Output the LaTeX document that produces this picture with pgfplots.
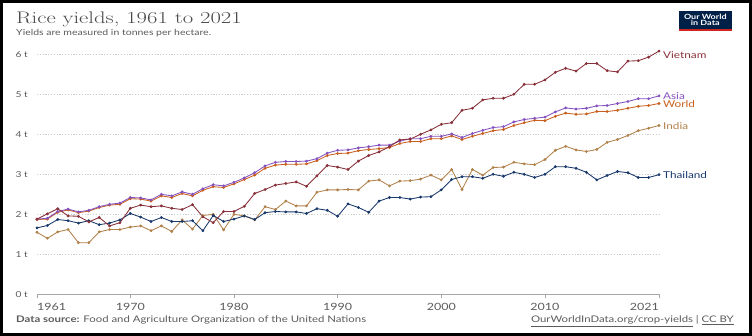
\documentclass[border=0pt]{standalone}
\usepackage{pgfplots}
\pgfplotsset{compat=1.18}
\usepackage{pgfplotstable}
\usepackage{fontspec}
\setmainfont{Lato}[FakeStretch=1.25]
\newfontfamily\titlefont{Latin Modern Roman}[FakeStretch=1.35]
\definecolor{cvn}{HTML}{883039}
\definecolor{casia}{HTML}{8452C0}
\definecolor{cworld}{HTML}{C95F1C}
\definecolor{cind}{HTML}{B0814A}
\definecolor{cth}{HTML}{18386A}
\definecolor{txt}{HTML}{5B5B5B}
\definecolor{ttl}{HTML}{4A4A4A}
\definecolor{owidblue}{HTML}{002147}
\definecolor{owidred}{HTML}{CE261E}

\pgfplotstableread{
year world asia vietnam india thailand
1961 1.87 1.88 1.88 1.55 1.66
1962 1.88 1.90 2.01 1.40 1.72
1963 2.05 2.07 2.14 1.56 1.87
1964 2.11 2.13 1.96 1.62 1.84
1965 2.04 2.06 1.95 1.29 1.78
1966 2.08 2.10 1.81 1.29 1.84
1967 2.17 2.19 1.92 1.56 1.74
1968 2.23 2.25 1.71 1.62 1.78
1969 2.25 2.28 1.79 1.62 1.86
1970 2.39 2.42 2.15 1.68 2.02
1971 2.38 2.41 2.23 1.71 1.93
1972 2.33 2.36 2.19 1.59 1.82
1973 2.46 2.50 2.21 1.71 1.92
1974 2.42 2.46 2.15 1.57 1.82
1975 2.52 2.56 2.12 1.86 1.82
1976 2.46 2.50 2.24 1.63 1.84
1977 2.60 2.64 1.94 1.97 1.59
1978 2.69 2.74 1.79 2.00 1.97
1979 2.67 2.71 2.07 1.61 1.82
1980 2.76 2.80 2.07 2.00 1.88
1981 2.87 2.91 2.20 1.96 1.96
1982 2.98 3.04 2.52 1.86 1.87
1983 3.15 3.21 2.62 2.19 2.04
1984 3.23 3.30 2.73 2.12 2.07
1985 3.25 3.32 2.77 2.33 2.06
1986 3.25 3.32 2.81 2.21 2.06
1987 3.26 3.33 2.70 2.21 2.02
1988 3.34 3.39 2.96 2.55 2.14
1989 3.47 3.53 3.22 2.61 2.10
1990 3.52 3.60 3.18 2.61 1.95
1991 3.53 3.61 3.12 2.62 2.26
1992 3.59 3.66 3.33 2.61 2.17
1993 3.62 3.69 3.47 2.83 2.05
1994 3.64 3.73 3.56 2.86 2.33
1995 3.67 3.73 3.69 2.71 2.42
1996 3.77 3.83 3.86 2.83 2.42
1997 3.82 3.89 3.88 2.84 2.38
1998 3.82 3.89 4.00 2.88 2.43
1999 3.89 3.95 4.11 2.98 2.44
2000 3.89 3.95 4.25 2.86 2.61
2001 3.96 4.01 4.29 3.12 2.87
2002 3.87 3.92 4.60 2.62 2.94
2003 3.95 4.02 4.65 3.12 2.94
2004 4.02 4.10 4.86 2.98 2.90
2005 4.09 4.17 4.90 3.17 3.00
2006 4.12 4.19 4.90 3.18 2.95
2007 4.22 4.31 5.00 3.30 3.05
2008 4.29 4.37 5.25 3.26 3.00
2009 4.35 4.40 5.25 3.24 2.92
2010 4.34 4.43 5.36 3.37 3.00
2011 4.45 4.56 5.55 3.60 3.19
2012 4.53 4.66 5.65 3.70 3.19
2013 4.50 4.63 5.58 3.61 3.15
2014 4.51 4.65 5.77 3.57 3.05
2015 4.57 4.71 5.77 3.62 2.86
2016 4.57 4.72 5.59 3.80 2.97
2017 4.60 4.77 5.56 3.87 3.07
2018 4.65 4.82 5.83 3.97 3.04
2019 4.70 4.89 5.84 4.09 2.92
2020 4.72 4.89 5.93 4.15 2.92
2021 4.77 4.96 6.08 4.22 2.99
}\ricedata

\begin{document}
\begin{tikzpicture}[x=1pt,y=1pt]
\path[use as bounding box] (0,0) rectangle (752,336);
\begin{axis}[
  at={(37pt,41.7pt)}, anchor=south west,
  scale only axis, width=622pt, height=240pt,
  xmin=1961, xmax=2021, ymin=0, ymax=6,
  clip=false,
  axis x line*=bottom, axis y line*=left,
  y axis line style={draw=none},
  x axis line style={color=black!35, line width=0.8pt},
  ytick style={draw=none},
  xtick style={color=black!35, line width=0.8pt},
  tick align=outside, major tick length=4pt,
  xtick={1970,1980,1990,2000,2010},
  xticklabels={1970,1980,1990,2000,2010},
  extra x ticks={1961,2021},
  extra x tick labels={\makebox[0pt][l]{1961},\makebox[0pt][r]{2021}},
  ytick={0,1,2,3,4,5,6},
  yticklabels={0 t,1 t,2 t,3 t,4 t,5 t,6 t},
  ymajorgrids,
  major grid style={dash pattern=on 1.2pt off 1.6pt, color=black!20, line width=0.6pt},
  xticklabel style={font=\fontsize{10}{10}\selectfont, text=txt, inner sep=0pt, yshift=-5pt},
  yticklabel style={font=\fontsize{8.2}{8}\selectfont, text=txt, inner sep=0pt, anchor=east, xshift=-5pt},
  /pgf/number format/assume math mode=true,
  every axis plot/.append style={line width=0.85pt, mark=*, mark size=0.95pt, mark options={solid}},
]
\addplot[color=cworld] table[x=year,y=world]{\ricedata};
\addplot[color=casia] table[x=year,y=asia]{\ricedata};
\addplot[color=cind] table[x=year,y=india]{\ricedata};
\addplot[color=cth] table[x=year,y=thailand]{\ricedata};
\addplot[color=cvn] table[x=year,y=vietnam]{\ricedata};
\begin{scope}[every node/.style={anchor=west, inner sep=0pt, xshift=4pt, font=\fontsize{9.4}{9}\selectfont}]
\node[text=cvn] at (axis cs:2021,5.98) {Vietnam};
\node[text=casia] at (axis cs:2021,4.96) {Asia};
\node[text=cworld] at (axis cs:2021,4.76) {World};
\node[text=cind] at (axis cs:2021,4.21) {India};
\node[text=cth] at (axis cs:2021,2.98) {Thailand};
\end{scope}
\end{axis}
\node[anchor=base west, inner sep=0pt, text=ttl, font=\titlefont\fontsize{16.8}{16}\selectfont] at (16,312.7) {Rice yields, 1961 to 2021};
\node[anchor=base west, inner sep=0pt, text=txt, font=\fontsize{8.4}{8}\selectfont] at (16,300) {Yields are measured in tonnes per hectare.};
\node[anchor=base west, inner sep=0pt, text=txt, font=\fontsize{9.1}{9}\selectfont] at (16,13.3) {\textbf{Data source:} Food and Agriculture Organization of the United Nations};
\node[anchor=base east, inner sep=0pt, text=txt, font=\fontsize{9.1}{9}\selectfont] at (734,13.0) {\underline{OurWorldInData.org/crop-yields} | \underline{CC BY}};
\fill[owidblue] (679,305.3) rectangle (731.7,325);
\fill[owidred] (679,305.3) rectangle (731.7,306.6);
\node[align=center, inner sep=0pt, text=white, font=\bfseries\fontsize{7.2}{6.8}\selectfont] at (705.3,316.2) {Our World\\in Data};
\draw[line width=3pt] (1.5,1.5) rectangle (750.5,334.5);
\end{tikzpicture}
\end{document}
